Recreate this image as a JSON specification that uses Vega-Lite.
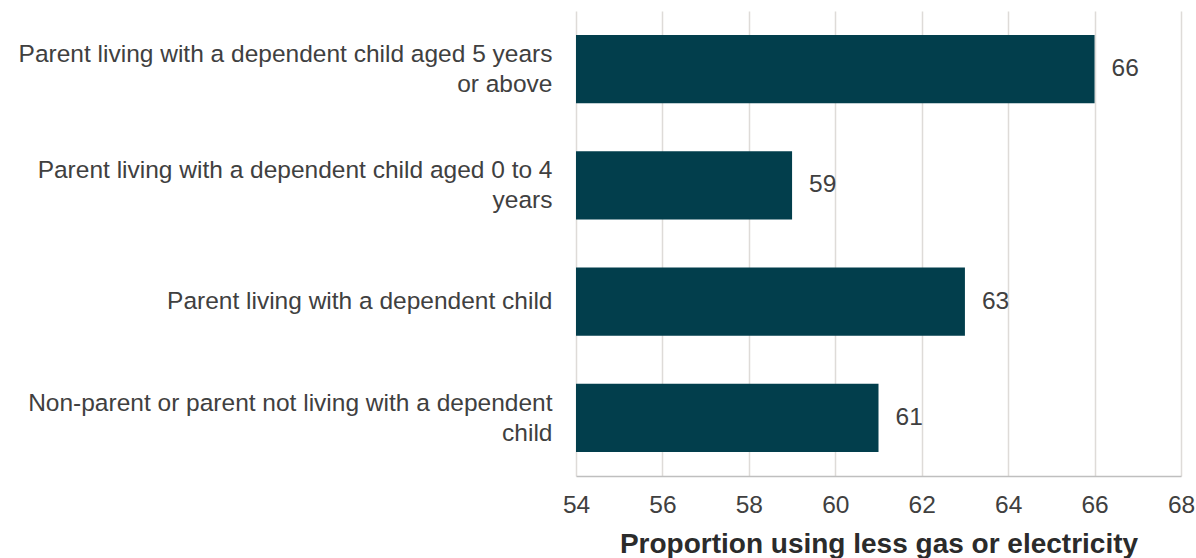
{
  "$schema": "https://vega.github.io/schema/vega-lite/v6.json",
  "width": 605,
  "height": 465,
  "autosize": {"type": "none"},
  "padding": {"left": 576, "top": 11, "right": 15, "bottom": 82},
  "background": "white",
  "config": {
    "view": {"stroke": null},
    "font": "Liberation Sans",
    "axis": {"labelFont": "Liberation Sans", "titleFont": "Liberation Sans"}
  },
  "data": {
    "values": [
      {"group": "Parent living with a dependent child aged 5 years|or above", "value": 66},
      {"group": "Parent living with a dependent child aged 0 to 4|years", "value": 59},
      {"group": "Parent living with a dependent child", "value": 63},
      {"group": "Non-parent or parent not living with a dependent|child", "value": 61}
    ]
  },
  "encoding": {
    "y": {
      "field": "group",
      "type": "nominal",
      "sort": null,
      "scale": {"paddingInner": 0.415, "paddingOuter": 0.2075},
      "axis": {
        "title": null,
        "domain": false,
        "ticks": false,
        "grid": false,
        "labelExpr": "split(datum.label, '|')",
        "labelFontSize": 24.5,
        "labelColor": "#404040",
        "labelLineHeight": 30,
        "labelPadding": 24,
        "labelLimit": 0,
        "labelOffset": {"condition": {"test": "indexof(datum.value, '|') >= 0", "value": -14}, "value": 0}
      }
    },
    "x": {
      "field": "value",
      "type": "quantitative",
      "scale": {"domain": [54, 68], "nice": false, "zero": false},
      "axis": {
        "title": "Proportion using less gas or electricity",
        "titleFontSize": 28,
        "titleFontWeight": "bold",
        "titleColor": "#2b2b2b",
        "titlePadding": 14,
        "values": [54, 56, 58, 60, 62, 64, 66, 68],
        "labelFontSize": 24.5,
        "labelColor": "#404040",
        "labelPadding": 17,
        "ticks": false,
        "grid": true,
        "gridColor": "#dedbd8",
        "gridWidth": 1.5,
        "domain": true,
        "domainColor": "#bfbfbf",
        "domainWidth": 1.5,
        "labelFlush": false
      }
    }
  },
  "layer": [
    {
      "mark": {"type": "bar", "color": "#023e4c", "clip": true}
    },
    {
      "mark": {"type": "text", "align": "left", "baseline": "middle", "dx": 17, "fontSize": 24.5, "color": "#404040"},
      "encoding": {"text": {"field": "value", "type": "quantitative"}}
    }
  ]
}
